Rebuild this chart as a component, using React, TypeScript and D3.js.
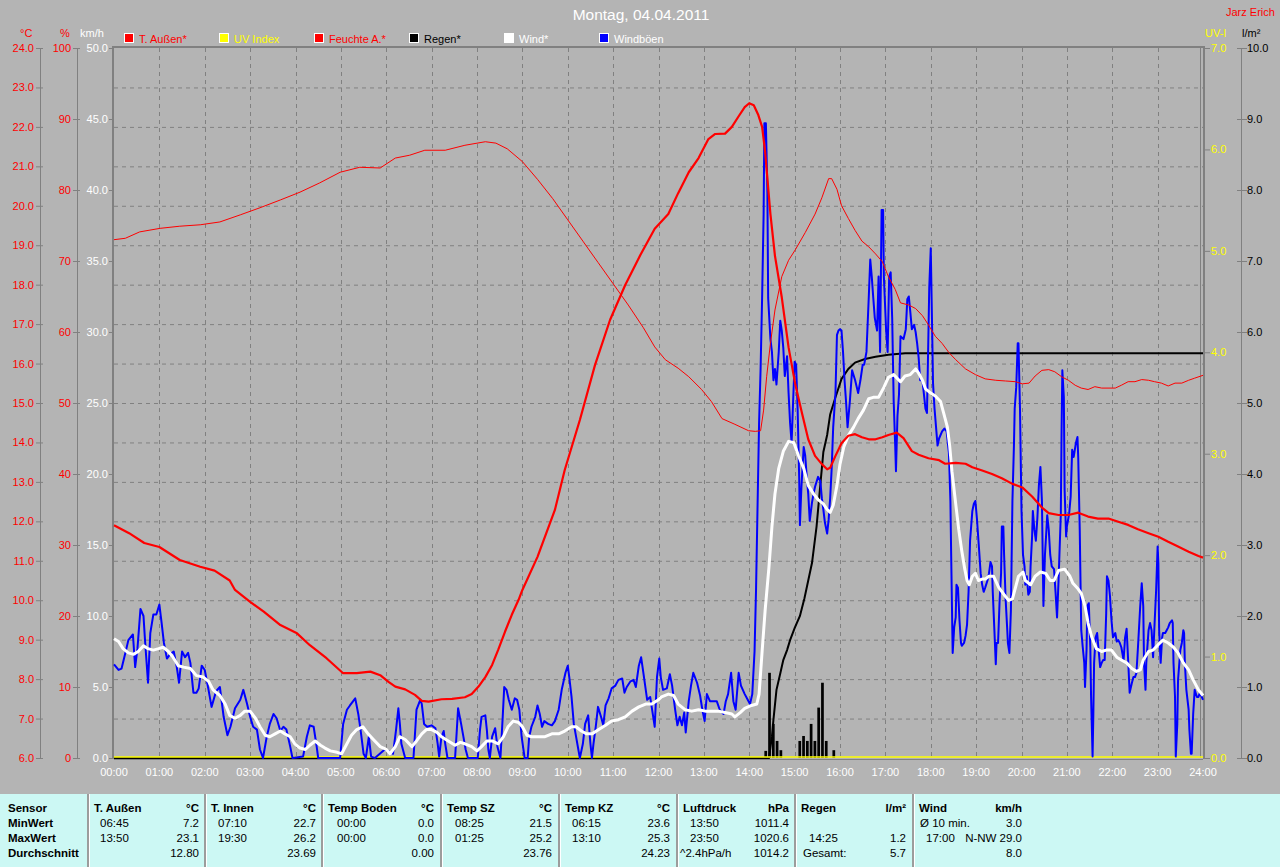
import React from 'react';
import * as d3 from 'd3';

// ---------- data ----------
const title = 'Montag, 04.04.2011';
const author = 'Jarz Erich';
const hourLabels = ['00:00','01:00','02:00','03:00','04:00','05:00','06:00','07:00','08:00','09:00','10:00','11:00','12:00','13:00','14:00','15:00','16:00','17:00','18:00','19:00','20:00','21:00','22:00','23:00','24:00'];
const tempTicks = [6,7,8,9,10,11,12,13,14,15,16,17,18,19,20,21,22,23,24];
const humTicks = [0,10,20,30,40,50,60,70,80,90,100];
const kmhTicks = [0,5,10,15,20,25,30,35,40,45,50];
const uvTicks = [0,1,2,3,4,5,6,7];
const rainTicks = [0,1,2,3,4,5,6,7,8,9,10];

// [minute of day, value]
const tempOut: [number, number][] = [[0,11.9],[20,11.7],[40,11.45],[60,11.35],[87,11.02],[114,10.85],[133,10.75],[153,10.5],[160,10.26],[180,9.96],[198,9.71],[220,9.37],[242,9.16],[259,8.86],[281,8.53],[303,8.15],[321,8.15],[339,8.19],[352,8.1],[363,7.93],[372,7.81],[385,7.74],[398,7.6],[407,7.45],[416,7.43],[433,7.49],[447,7.5],[464,7.54],[473,7.62],[482,7.81],[491,8.05],[500,8.36],[508,8.74],[517,9.2],[526,9.63],[535,10.01],[540,10.26],[560,11.1],[583,12.29],[596,13.3],[616,14.57],[636,15.96],[656,17.11],[676,17.99],[696,18.75],[715,19.42],[733,19.79],[746,20.32],[760,20.85],[773,21.21],[786,21.69],[795,21.82],[808,21.83],[817,22.0],[826,22.27],[834,22.5],[840,22.6],[846,22.55],[852,22.3],[857,22.0],[861,21.37],[868,19.79],[874,18.73],[883,17.68],[892,16.41],[901,15.46],[910,14.72],[918,14.08],[927,13.66],[936,13.45],[943,13.32],[947,13.36],[954,13.66],[962,13.98],[971,14.17],[980,14.21],[989,14.13],[998,14.08],[1007,14.08],[1016,14.13],[1024,14.19],[1035,14.25],[1044,14.11],[1055,13.78],[1064,13.69],[1077,13.6],[1091,13.55],[1099,13.46],[1113,13.48],[1126,13.46],[1135,13.37],[1148,13.29],[1161,13.2],[1174,13.09],[1188,12.95],[1201,12.86],[1214,12.63],[1227,12.35],[1236,12.21],[1249,12.16],[1262,12.16],[1275,12.22],[1288,12.12],[1301,12.07],[1315,12.07],[1328,11.99],[1341,11.91],[1354,11.8],[1368,11.7],[1381,11.61],[1394,11.48],[1407,11.36],[1421,11.23],[1434,11.12],[1440,11.08]];

const humidity: [number, number][] = [[0,73],[15,73.2],[34,74.1],[61,74.6],[87,74.9],[114,75.1],[140,75.5],[167,76.5],[193,77.5],[220,78.6],[246,79.7],[272,81.0],[299,82.5],[325,83.2],[352,83.1],[372,84.5],[391,84.9],[411,85.6],[438,85.6],[464,86.3],[491,86.8],[505,86.6],[520,85.8],[540,84.0],[560,81.5],[580,78.8],[600,75.8],[620,72.8],[640,69.8],[660,66.8],[680,63.8],[700,60.6],[715,57.9],[729,56.1],[746,54.9],[760,53.7],[777,51.9],[790,50.2],[804,47.8],[821,47.0],[839,46.1],[848,46.0],[855,46.1],[859,49.0],[863,53.7],[868,58.4],[874,63.1],[883,67.8],[892,70.1],[901,71.6],[914,74.0],[927,76.6],[936,78.9],[945,81.6],[949,81.6],[956,80.1],[962,77.8],[971,76.0],[980,74.3],[989,72.8],[998,72.0],[1007,71.0],[1016,69.9],[1024,67.8],[1033,66.0],[1040,64.1],[1051,63.8],[1060,63.3],[1069,62.3],[1077,61.0],[1086,59.4],[1095,58.4],[1104,57.1],[1113,56.1],[1126,54.8],[1139,54.0],[1152,53.4],[1166,53.2],[1179,53.1],[1192,53.0],[1201,52.7],[1210,52.8],[1218,53.8],[1227,54.6],[1236,54.7],[1244,54.4],[1253,53.7],[1262,53.2],[1271,52.5],[1279,52.1],[1288,51.9],[1297,52.3],[1306,52.1],[1324,52.1],[1332,52.5],[1341,53.0],[1350,53.0],[1359,53.3],[1368,53.2],[1376,53.0],[1385,52.8],[1394,52.4],[1403,52.8],[1412,52.8],[1421,53.2],[1429,53.5],[1440,53.9]];

const uvIndex = [0,0,0,0,0,0,0,0,0,0,0,0,0,0,0,0,0,0,0,0,0,0,0,0,0];

const rainBars: [number, number][] = [[860,0.1],[865,1.2],[870,0.48],[875,0.24],[880,0.11],[905,0.24],[910,0.31],[915,0.24],[920,0.48],[925,0.24],[930,0.71],[935,1.06],[940,0.24],[950,0.11]];

const rainTotal: [number, number][] = [[0,0],[866,0],[870,0.3],[872,0.54],[876,0.96],[881,1.19],[885,1.38],[890,1.52],[894,1.66],[900,1.83],[907,2.0],[913,2.25],[918,2.5],[923,2.75],[929,3.26],[934,3.85],[938,4.31],[943,4.55],[947,4.84],[954,5.08],[962,5.34],[971,5.48],[980,5.57],[993,5.62],[1007,5.65],[1024,5.68],[1046,5.7],[1440,5.7]];

const wind: [number, number][] = [[0,8.4],[6,8.2],[12,7.7],[19,7.4],[26,7.3],[32,7.5],[39,7.9],[45,7.7],[52,7.6],[59,7.7],[65,7.8],[72,7.5],[78,7.1],[85,6.5],[92,6.4],[101,6.3],[109,5.8],[118,5.7],[125,5.4],[131,4.8],[140,4.4],[147,3.8],[153,3.0],[160,2.8],[167,3.0],[173,3.3],[180,3.3],[187,2.8],[193,2.2],[200,1.6],[206,1.5],[213,1.7],[220,1.9],[226,1.7],[233,1.5],[239,1.0],[246,0.7],[253,0.6],[259,0.9],[266,1.2],[273,0.9],[279,0.7],[286,0.5],[295,0.4],[301,0.3],[308,1.0],[314,1.6],[321,2.0],[329,2.2],[336,1.7],[343,1.3],[352,0.8],[360,0.6],[365,0.3],[372,0.8],[378,1.5],[385,1.3],[394,0.8],[400,1.2],[407,1.7],[413,2.0],[420,2.0],[427,1.8],[433,1.5],[442,1.2],[451,0.9],[458,1.1],[464,1.0],[473,0.8],[480,0.5],[486,0.8],[493,1.2],[500,1.2],[508,1.0],[515,1.5],[521,2.2],[528,2.6],[535,2.5],[540,2.2],[546,1.6],[552,1.5],[561,1.5],[570,1.5],[579,1.7],[588,1.7],[596,1.9],[605,2.2],[611,2.2],[618,1.9],[625,1.7],[632,1.7],[641,2.0],[650,2.3],[658,2.6],[667,2.7],[676,2.9],[685,3.3],[694,3.6],[703,3.8],[711,3.8],[720,4.1],[724,4.3],[733,4.5],[740,4.4],[746,3.8],[755,3.4],[764,3.3],[773,3.4],[782,3.3],[790,3.3],[799,3.3],[808,3.2],[817,3.1],[821,2.9],[828,3.2],[834,3.5],[843,3.7],[850,3.8],[853,4.5],[857,7.5],[861,10.4],[866,13.4],[870,16.3],[874,18.6],[879,20.4],[885,21.6],[892,22.3],[899,22.2],[905,21.3],[912,20.4],[918,19.2],[925,18.6],[931,18.2],[938,17.9],[943,17.5],[947,17.3],[951,17.8],[956,19.2],[960,20.7],[965,21.9],[971,22.7],[978,23.3],[984,23.9],[991,24.5],[998,25.3],[1004,25.4],[1011,25.4],[1018,26.1],[1024,26.8],[1031,27.0],[1040,26.5],[1046,26.9],[1053,27.0],[1060,27.4],[1064,27.1],[1069,26.6],[1073,26.0],[1080,25.7],[1086,25.5],[1093,25.1],[1097,24.3],[1102,23.3],[1105,22.0],[1108,20.2],[1113,17.9],[1117,16.1],[1121,14.6],[1125,13.3],[1128,12.5],[1131,12.2],[1135,12.8],[1139,13.0],[1143,12.5],[1148,12.6],[1152,12.6],[1157,12.8],[1163,12.8],[1170,12.0],[1177,11.5],[1183,11.1],[1188,11.2],[1192,12.0],[1196,12.8],[1202,13.1],[1205,12.5],[1212,12.2],[1218,12.8],[1225,13.1],[1232,13.0],[1238,12.5],[1243,12.5],[1249,13.2],[1257,13.3],[1264,12.8],[1268,12.3],[1275,11.9],[1279,11.6],[1284,10.7],[1288,9.5],[1293,8.5],[1299,7.7],[1306,7.5],[1312,7.6],[1319,7.6],[1326,7.1],[1332,6.9],[1339,6.7],[1346,6.3],[1352,6.1],[1357,6.2],[1361,6.9],[1368,7.5],[1374,7.6],[1381,8.0],[1387,8.3],[1394,8.1],[1401,7.8],[1407,7.4],[1414,6.7],[1421,6.2],[1427,5.5],[1434,4.8],[1440,4.4]];

const gusts: [number, number][] = [[0,6.6],[6,6.2],[10,6.3],[15,7.4],[19,8.3],[25,8.7],[28,6.4],[31,7.7],[35,10.5],[39,10.0],[41,8.3],[45,5.3],[48,8.8],[52,10.1],[56,10.1],[60,10.8],[63,9.5],[66,8.1],[70,7.0],[74,7.3],[79,7.5],[83,6.4],[86,5.3],[90,7.5],[94,7.1],[98,7.4],[101,6.7],[105,4.6],[109,4.6],[112,4.9],[116,6.5],[120,6.2],[125,4.8],[129,3.6],[135,4.7],[140,5.0],[145,2.9],[150,1.6],[154,2.2],[160,3.5],[167,4.1],[171,4.8],[176,3.8],[180,2.9],[184,2.2],[189,2.0],[193,0.6],[197,0],[202,1.5],[206,2.4],[211,3.1],[215,2.8],[220,1.9],[224,2.2],[228,2.0],[233,0.8],[236,0],[250,0.1],[255,1.5],[259,2.3],[264,2.2],[268,0.8],[270,0],[299,0],[303,2.4],[308,3.4],[312,3.7],[319,4.2],[323,3.1],[326,2.0],[330,0.3],[333,0],[337,1.5],[340,0.1],[345,0],
[358,0.6],[369,0.3],[373,2.0],[376,3.5],[378,2.4],[380,1.0],[385,0],[396,0],[400,3.4],[405,4.1],[407,3.8],[410,2.4],[414,2.2],[420,2.3],[425,2.1],[428,1.0],[430,0.1],[433,1.5],[436,1.9],[438,1.0],[441,0],[451,0],[453,1.7],[455,3.5],[459,2.4],[462,1.5],[465,0.6],[468,0],[481,0],[484,2.0],[486,2.9],[491,3.0],[493,2.0],[495,0.6],[497,0],[500,1.5],[504,2.1],[507,0.8],[511,0],[514,2.9],[516,5.0],[519,4.8],[522,4.1],[526,3.4],[530,4.2],[533,4.1],[536,3.4],[539,1.5],[543,0],[547,0],[549,1.5],[552,2.2],[557,2.9],[560,3.7],[563,3.1],[566,2.2],[569,2.6],[574,2.4],[579,2.3],[583,2.6],[588,3.4],[592,4.8],[597,6.0],[600,6.5],[602,5.7],[605,4.3],[608,2.4],[611,1.5],[614,0.6],[616,0],[620,1.0],[623,2.4],[627,3.0],[630,1.0],[632,0],[634,1.0],[637,2.2],[640,3.6],[644,2.9],[647,2.3],[650,3.7],[654,4.2],[658,4.9],[663,5.1],[667,5.5],[672,5.6],[675,4.6],[678,5.0],[683,5.4],[687,5.5],[690,5.0],[694,6.5],[697,7.1],[700,6.0],[705,4.1],[709,4.3],[711,3.6],[715,2.2],[718,5.7],[721,7.0],
[723,5.7],[726,4.8],[731,4.9],[735,5.9],[738,5.1],[742,3.4],[745,2.3],[748,2.9],[751,2.3],[754,3.2],[756,1.8],[760,4.0],[763,5.1],[766,6.0],[771,5.3],[775,4.4],[778,3.4],[781,2.6],[784,4.5],[788,4.0],[793,4.0],[797,4.0],[801,3.4],[806,3.1],[809,4.0],[812,4.5],[816,6.0],[819,4.0],[822,3.4],[826,6.0],[829,5.1],[834,4.5],[838,4.1],[841,3.8],[844,4.5],[847,7.5],[849,11.9],[851,17.8],[853,23.6],[855,27.4],[857,32.4],[859,38.3],[860,44.7],[862,44.7],[864,39.8],[865,32.4],[868,29.5],[870,28.6],[872,26.6],[874,27.4],[876,26.3],[879,28.6],[881,30.8],[883,30.1],[885,28.9],[887,26.9],[890,28.3],[892,25.7],[894,23.6],[896,22.2],[898,25.1],[900,27.9],[902,27.7],[904,24.5],[906,19.8],[907,16.4],[909,19.1],[912,21.9],[914,21.3],[916,19.8],[918,18.6],[920,16.7],[923,18.0],[925,18.6],[927,19.1],[931,19.8],[934,19.5],[936,18.3],[938,17.5],[940,16.6],[943,15.8],[945,16.8],[947,18.3],[949,20.4],[951,23.3],[954,25.7],[956,29.8],[958,30.1],[960,30.2],[962,30.1],[964,28.6],[966,26.6],[968,25.1],[970,23.3],[973,25.1],[976,27.3],[980,26.6],[984,25.7],[987,26.6],[990,27.7],[992,27.7],[995,28.6],[998,32.4],[1000,35.1],[1002,33.9],[1004,32.4],[1006,31.0],[1009,30.1],[1011,33.9],[1013,28.6],[1015,38.6],[1017,38.6],[1018,33.9],[1021,30.1],[1023,28.6],[1025,33.9],[1027,34.2],[1029,31.0],[1031,25.1],
[1033,22.0],[1034,20.2],[1036,24.1],[1038,25.6],[1040,29.7],[1042,29.6],[1044,29.5],[1047,30.2],[1049,32.3],[1051,32.5],[1053,31.4],[1055,30.2],[1058,30.5],[1060,30.0],[1062,29.2],[1064,28.2],[1066,26.6],[1069,26.6],[1071,25.6],[1073,24.6],[1075,24.3],[1076,27.1],[1078,33.1],[1080,35.9],[1082,29.7],[1083,26.4],[1085,24.6],[1087,23.3],[1089,22.0],[1091,22.5],[1095,23.0],[1098,23.2],[1101,23.0],[1104,21.5],[1106,18.1],[1107,14.3],[1109,7.4],[1111,9.2],[1113,9.9],[1114,12.2],[1116,12.0],[1118,9.7],[1120,8.1],[1121,7.9],[1124,8.1],[1126,8.6],[1128,9.4],[1130,11.7],[1132,15.3],[1135,17.4],[1137,17.9],[1139,18.1],[1141,16.9],[1144,14.6],[1146,13.0],[1148,12.2],[1150,11.7],[1152,12.0],[1155,12.5],[1157,13.0],[1159,13.8],[1161,13.5],[1162,11.7],[1164,9.2],[1166,6.6],[1167,8.1],[1169,8.1],[1171,11.0],[1173,13.0],[1174,16.3],[1176,16.3],[1177,14.3],[1179,11.2],[1181,9.2],[1182,8.1],[1184,7.4],[1186,10.4],[1188,18.1],[1190,22.0],[1191,24.6],[1193,26.1],[1195,29.2],[1196,29.2],[1198,24.6],[1200,17.4],[1202,14.3],[1204,13.5],[1205,12.2],[1207,12.8],[1209,11.5],[1211,11.7],[1212,13.5],[1214,15.6],[1215,17.4],[1217,16.1],[1219,15.3],[1221,16.9],[1223,19.2],[1225,20.5],[1227,18.1],[1229,10.7],[1231,14.3],[1233,16.1],[1234,17.1],[1236,16.1],[1238,14.3],[1240,13.5],[1243,13.3],[1245,11.7],[1247,9.9],
[1249,12.5],[1252,17.2],[1253,23.1],[1254,27.3],[1256,25.4],[1257,18.9],[1259,15.6],[1260,16.3],[1263,17.2],[1265,18.4],[1267,21.7],[1269,21.2],[1272,22.2],[1274,22.6],[1275,21.2],[1277,16.1],[1278,12.5],[1279,9.0],[1281,7.8],[1283,6.7],[1284,5.0],[1286,7.6],[1287,10.7],[1289,10.9],[1291,7.8],[1292,4.3],[1294,0.1],[1295,3.1],[1296,6.7],[1298,8.5],[1300,8.8],[1302,7.6],[1304,6.4],[1306,6.7],[1308,6.9],[1310,6.9],[1312,10.2],[1313,12.8],[1315,12.5],[1317,11.4],[1319,9.7],[1321,8.5],[1324,8.8],[1326,8.2],[1328,8.3],[1330,8.1],[1332,7.8],[1335,6.9],[1337,8.5],[1339,9.1],[1341,6.9],[1343,4.6],[1346,5.3],[1348,5.7],[1350,5.7],[1352,6.0],[1354,7.8],[1357,10.7],[1359,12.3],[1361,10.7],[1362,6.7],[1364,4.8],[1365,6.7],[1368,9.0],[1370,9.5],[1372,9.0],[1374,7.1],[1376,9.5],[1378,11.8],[1380,14.9],[1381,13.7],[1382,9.0],[1384,6.7],[1386,8.5],[1387,8.8],[1390,8.8],[1392,9.0],[1394,9.2],[1396,9.5],[1399,9.7],[1400,9.5],[1401,6.7],[1403,4.3],[1404,0.1],[1406,2.4],[1407,5.5],[1410,7.6],[1412,8.1],[1414,9.0],[1415,8.8],[1416,6.7],[1418,4.8],[1421,3.4],[1422,2.0],[1424,0.3],[1425,0.3],[1427,3.1],[1429,4.8],[1432,4.3],[1434,4.3],[1436,4.6],[1440,4.1]];

const legendItems = [
  { label: 'T. Außen*', fill: '#ff0000', text: '#ff0000' },
  { label: 'UV Index', fill: '#ffff00', text: '#ffff00' },
  { label: 'Feuchte A.*', fill: '#ff0000', text: '#ff0000' },
  { label: 'Regen*', fill: '#000000', text: '#000000' },
  { label: 'Wind*', fill: '#ffffff', text: '#ffffff' },
  { label: 'Windböen', fill: '#0000ff', text: '#ffffff' },
];

const rowLabels = ['Sensor', 'MinWert', 'MaxWert', 'Durchschnitt'];
const tableCols = [
  { title: 'T. Außen', unit: '°C', left: ['06:45', '13:50', ''], right: ['7.2', '23.1', '12.80'] },
  { title: 'T. Innen', unit: '°C', left: ['07:10', '19:30', ''], right: ['22.7', '26.2', '23.69'] },
  { title: 'Temp Boden', unit: '°C', left: ['00:00', '00:00', ''], right: ['0.0', '0.0', '0.00'] },
  { title: 'Temp SZ', unit: '°C', left: ['08:25', '01:25', ''], right: ['21.5', '25.2', '23.76'] },
  { title: 'Temp KZ', unit: '°C', left: ['06:15', '13:10', ''], right: ['23.6', '25.3', '24.23'] },
  { title: 'Luftdruck', unit: 'hPa', left: ['13:50', '23:50', '^2.4hPa/h'], right: ['1011.4', '1020.6', '1014.2'] },
  { title: 'Regen', unit: 'l/m²', left: ['', '14:25', 'Gesamt:'], right: ['', '1.2', '5.7'] },
  { title: 'Wind', unit: 'km/h', left: ['Ø 10 min.', '17:00', ''], right: ['3.0', 'N-NW 29.0', '8.0'] },
];
const colEdges = [88, 205, 322, 441, 559, 677, 795, 913];
const leftOffsets = [
  [12, 12, 12], [13, 13, 13], [15, 15, 15], [14, 14, 14], [13, 13, 13], [13, 13, 3], [8, 14, 8], [7, 13, 7],
];
const colRight = [199, 316, 434, 552, 670, 789, 906, 1022];

// ---------- layout ----------
const W = 1280, H = 867;
const L = 114, R = 1203, T = 48, B = 758;
const FONT = "'Liberation Sans', Arial, sans-serif";
const NARROW = "'Liberation Sans Narrow', 'Liberation Sans', Arial, sans-serif";
const BG = '#b4b4b4';
const GRID = '#808080';

export default function App() {
  const x = d3.scaleLinear().domain([0, 1440]).range([L, R]);
  const yT = d3.scaleLinear().domain([6, 24]).range([B, T]);
  const yH = d3.scaleLinear().domain([0, 100]).range([B, T]);
  const yK = d3.scaleLinear().domain([0, 50]).range([B, T]);
  const yU = d3.scaleLinear().domain([0, 7]).range([B, T]);
  const yR = d3.scaleLinear().domain([0, 10]).range([B, T]);

  const mk = (ys: d3.ScaleLinear<number, number>) =>
    d3.line<[number, number]>().x(d => x(d[0])).y(d => ys(d[1]));

  const uvPts: [number, number][] = uvIndex.map((v, i) => [i * 60, v]);
  const barW = (x(5) - x(0)) * 0.72;

  return (
    <svg width={W} height={H} style={{ position: 'absolute', left: 0, top: 0, display: 'block' }}
      fontFamily={FONT}>
      <rect x={0} y={0} width={W} height={H} fill={BG} />

      {/* title */}
      <text x={641} y={20} textAnchor="middle" fill="#ffffff" fontSize={15.5}>{title}</text>
      <text x={1226} y={16} fill="#ff0000" fontSize={11}>{author}</text>

      {/* legend */}
      {legendItems.map((it, i) => (
        <g key={it.label} transform={`translate(${124 + i * 95},33)`}>
          <rect x={0} y={0} width={10} height={10} fill="#ffffff" />
          <rect x={1} y={1} width={8} height={8} fill={it.fill} />
          <text x={15} y={9.5} fill={it.text} fontSize={11}>{it.label}</text>
        </g>
      ))}

      {/* unit labels */}
      <text x={20} y={37} fill="#ff0000" fontSize={11}>°C</text>
      <text x={60} y={37} fill="#ff0000" fontSize={11}>%</text>
      <text x={80} y={37} fill="#ffffff" fontSize={11}>km/h</text>
      <text x={1205} y={37} fill="#ffff00" fontSize={11}>UV-I</text>
      <text x={1242} y={37} fill="#000000" fontSize={11}>l/m²</text>

      {/* grid */}
      {tempTicks.slice(1, -1).map(t => (
        <line key={'gh' + t} x1={L} x2={R} y1={yT(t) + 0.5} y2={yT(t) + 0.5} stroke={GRID} strokeDasharray="4,4" />
      ))}
      {hourLabels.slice(1, -1).map((_, i) => (
        <line key={'gv' + i} x1={Math.round(x((i + 1) * 60)) + 0.5} x2={Math.round(x((i + 1) * 60)) + 0.5} y1={T} y2={B}
          stroke={GRID} strokeDasharray="4,4" />
      ))}

      {/* left axes */}
      <line x1={40.5} x2={40.5} y1={T} y2={B} stroke={GRID} />
      {tempTicks.map(t => (
        <g key={'tt' + t}>
          <line x1={36} x2={43} y1={yT(t) + 0.5} y2={yT(t) + 0.5} stroke={GRID} />
          <text x={34} y={yT(t) + 4} textAnchor="end" fill="#ff0000" fontSize={11}>{t.toFixed(1)}</text>
        </g>
      ))}
      <line x1={77.5} x2={77.5} y1={T} y2={B} stroke={GRID} />
      {humTicks.map(t => (
        <g key={'ht' + t}>
          <line x1={73} x2={80} y1={yH(t) + 0.5} y2={yH(t) + 0.5} stroke={GRID} />
          <text x={71} y={yH(t) + 4} textAnchor="end" fill="#ff0000" fontSize={11}>{t}</text>
        </g>
      ))}
      {kmhTicks.map(t => (
        <g key={'kt' + t}>
          <line x1={109} x2={114} y1={yK(t) + 0.5} y2={yK(t) + 0.5} stroke={GRID} />
          <text x={108} y={yK(t) + 4} textAnchor="end" fill="#ffffff" fontSize={11}>{t.toFixed(1)}</text>
        </g>
      ))}

      {/* right axes */}
      {uvTicks.map(t => (
        <g key={'ut' + t}>
          <line x1={1204} x2={1210} y1={yU(t) + 0.5} y2={yU(t) + 0.5} stroke={GRID} />
          <text x={1211} y={yU(t) + 4} fill="#ffff00" fontSize={11}>{t.toFixed(1)}</text>
        </g>
      ))}
      <line x1={1241.5} x2={1241.5} y1={T} y2={B} stroke={GRID} />
      {rainTicks.map(t => (
        <g key={'rt' + t}>
          <line x1={1237} x2={1247} y1={yR(t) + 0.5} y2={yR(t) + 0.5} stroke={GRID} />
          <text x={1247} y={yR(t) + 4} fill="#000000" fontSize={11}>{t.toFixed(1)}</text>
        </g>
      ))}

      {/* x labels */}
      {hourLabels.map((h, i) => (
        <text key={h} x={x(i * 60)} y={776} textAnchor="middle" fill="#ffffff" fontSize={11}>{h}</text>
      ))}

      {/* plot frame */}
      <line x1={L - 1} x2={L - 1} y1={T - 1} y2={B + 1} stroke={GRID} strokeWidth={2} />
      <line x1={L - 2} x2={R + 2} y1={T - 1} y2={T - 1} stroke={GRID} strokeWidth={2} />
      <line x1={L} x2={R} y1={B + 1.5} y2={B + 1.5} stroke={GRID} />
      <line x1={R - 2.5} x2={R - 2.5} y1={T} y2={B} stroke={GRID} />
      <line x1={R + 1} x2={R + 1} y1={T - 1} y2={B + 1} stroke={GRID} strokeWidth={2} />

      {/* rain bars */}
      {rainBars.map(([t, v]) => (
        <rect key={'rb' + t} x={x(t)} y={yR(v)} width={barW} height={B - yR(v)} fill="#000000" />
      ))}
      {/* cumulative rain */}
      <path d={mk(yR)(rainTotal) || ''} fill="none" stroke="#000000" strokeWidth={2} />
      {/* UV */}
      <path d={mk(yU)(uvPts) || ''} fill="none" stroke="#ffff00" strokeWidth={1.5} transform="translate(0,-1)" />
      {/* gusts */}
      <path d={mk(yK)(gusts) || ''} fill="none" stroke="#0000ff" strokeWidth={2} strokeLinejoin="round" />
      {/* wind */}
      <path d={mk(yK)(wind) || ''} fill="none" stroke="#ffffff" strokeWidth={3} strokeLinejoin="round" />
      {/* humidity */}
      <path d={mk(yH)(humidity) || ''} fill="none" stroke="#ff0000" strokeWidth={1} />
      {/* temperature */}
      <path d={mk(yT)(tempOut) || ''} fill="none" stroke="#ff0000" strokeWidth={2.2} strokeLinejoin="round" />

      {/* table */}
      <rect x={0} y={794} width={W} height={H - 794} fill="#ccf8f4" />
      {colEdges.map(cx => (
        <g key={'ce' + cx}>
          <line x1={cx} x2={cx} y1={794} y2={H} stroke="#9c9c9c" strokeWidth={2} />
          <line x1={cx + 1.5} x2={cx + 1.5} y1={794} y2={H} stroke="#ffffff" strokeWidth={1} />
        </g>
      ))}
      {rowLabels.map((r, i) => (
        <text key={r} x={8} y={812 + i * 15} fill="#000000" fontSize={11.5} fontWeight="bold">{r}</text>
      ))}
      {tableCols.map((c, ci) => (
        <g key={c.title}>
          <text x={colEdges[ci] + 6} y={812} fill="#000000" fontSize={11.5} fontWeight="bold">{c.title}</text>
          <text x={colRight[ci]} y={812} textAnchor="end" fill="#000000" fontSize={11.5} fontWeight="bold">{c.unit}</text>
          {c.left.map((v, ri) => (
            <text key={'l' + ri} x={colEdges[ci] + leftOffsets[ci][ri]} y={827 + ri * 15} fill="#000000"
              fontSize={11.5} fontFamily={NARROW}>{v}</text>
          ))}
          {c.right.map((v, ri) => (
            <text key={'r' + ri} x={colRight[ci]} y={827 + ri * 15} textAnchor="end" fill="#000000"
              fontSize={11.5} fontFamily={NARROW}>{v}</text>
          ))}
        </g>
      ))}
    </svg>
  );
}
